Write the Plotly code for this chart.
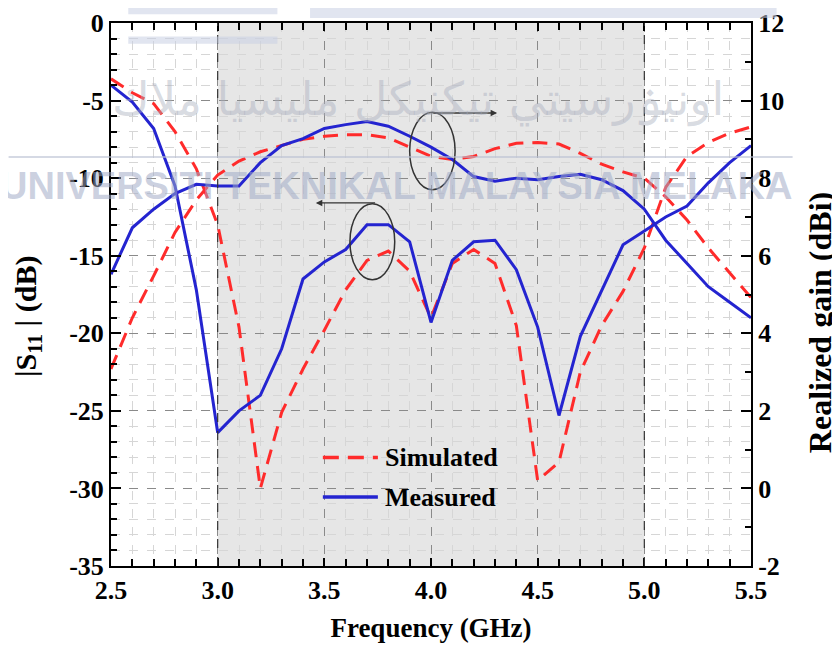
import plotly.graph_objects as go

# ---------------- data ----------------
freq = [2.5, 2.6, 2.7, 2.8, 2.9, 3.0, 3.1, 3.2, 3.3, 3.4, 3.5, 3.6, 3.7, 3.8, 3.9, 4.0,
        4.1, 4.2, 4.3, 4.4, 4.5, 4.6, 4.7, 4.8, 4.9, 5.0, 5.1, 5.2, 5.3, 5.4, 5.5]

s11_sim = [-3.6, -4.5, -5.2, -7.0, -9.4, -13.0, -19.6, -30.0, -25.1, -22.3, -19.8, -17.2,
           -15.3, -14.7, -16.0, -19.0, -15.5, -14.6, -15.5, -19.5, -29.5, -28.3, -22.5,
           -19.5, -17.3, -14.5, -10.6, -8.6, -7.7, -7.1, -6.7]

s11_meas = [-4.0, -5.1, -6.8, -10.5, -17.2, -26.4, -25.0, -24.0, -21.0, -16.5, -15.4, -14.6,
            -13.0, -13.0, -14.1, -19.3, -15.3, -14.1, -14.0, -15.9, -19.6, -25.3, -20.2,
            -17.2, -14.3, -13.4, -12.5, -11.8, -10.3, -9.0, -7.9]

gain_sim = [3.08, 4.40, 5.48, 6.60, 7.44, 8.08, 8.44, 8.68, 8.84, 9.00, 9.08, 9.12, 9.12,
            9.04, 8.80, 8.56, 8.48, 8.56, 8.76, 8.90, 8.92, 8.88, 8.64, 8.36, 8.16, 8.00,
            7.52, 6.92, 6.20, 5.56, 4.92]

gain_meas = [5.52, 6.72, 7.20, 7.60, 7.84, 7.80, 7.80, 8.40, 8.84, 9.02, 9.28, 9.38, 9.46,
             9.34, 9.08, 8.80, 8.48, 8.04, 7.92, 8.00, 7.96, 8.04, 8.10, 7.96, 7.68, 7.20,
             6.40, 5.80, 5.20, 4.80, 4.40]

x_ticks = [2.5, 3.0, 3.5, 4.0, 4.5, 5.0, 5.5]
x_tick_labels = ["2.5", "3.0", "3.5", "4.0", "4.5", "5.0", "5.5"]
y1_ticks = [0, -5, -10, -15, -20, -25, -30, -35]
y1_tick_labels = ["0", "-5", "-10", "-15", "-20", "-25", "-30", "-35"]
y2_ticks = [12, 10, 8, 6, 4, 2, 0, -2]
y2_tick_labels = ["12", "10", "8", "6", "4", "2", "0", "-2"]

band = [3.0, 5.0]
series_names = ["Simulated", "Measured"]

# ---------------- styles ----------------
RED = "#ff2b2b"
BLUE = "#2424d0"
FONT = "Liberation Serif"
dash_red = "15px,9px"

fig = go.Figure()

fig.add_trace(go.Scatter(x=freq, y=s11_sim, mode="lines", name=series_names[0],
                         line=dict(color=RED, width=3, dash=dash_red), yaxis="y"))
fig.add_trace(go.Scatter(x=freq, y=s11_meas, mode="lines", name=series_names[1],
                         line=dict(color=BLUE, width=3), yaxis="y"))
fig.add_trace(go.Scatter(x=freq, y=gain_sim, mode="lines", name=series_names[0],
                         line=dict(color=RED, width=3, dash=dash_red), yaxis="y2"))
fig.add_trace(go.Scatter(x=freq, y=gain_meas, mode="lines", name=series_names[1],
                         line=dict(color=BLUE, width=3), yaxis="y2"))

tickfont = dict(family=FONT, size=26, color="black", weight="bold")
titlefont = dict(family=FONT, size=27, color="black", weight="bold")

# page body has an 8px margin -> figure sized/shifted to land plot area at 111..751 x 23..566
fig.update_layout(
    width=832, height=646,
    margin=dict(l=103, r=89, t=15, b=88),
    paper_bgcolor="white", plot_bgcolor="white",
    showlegend=False,
    xaxis=dict(range=[2.5, 5.5], tickmode="array", tickvals=x_ticks, ticktext=x_tick_labels,
               showline=True, linecolor="black", linewidth=2, mirror="ticks",
               ticks="inside", ticklen=8, tickwidth=2, tickcolor="black",
               showgrid=True, gridcolor="#8a8a8a", griddash="dash", gridwidth=1,
               minor=dict(tickmode="linear", tick0=2.5, dtick=0.1, ticks="inside", ticklen=7,
                          tickwidth=2, tickcolor="black", showgrid=True, gridcolor="#d6d6d6",
                          gridwidth=1),
               zeroline=False, tickfont=tickfont, automargin=False,
               title=dict(text="Frequency (GHz)", font=titlefont, standoff=14)),
    yaxis=dict(range=[-35, 0], tickmode="array", tickvals=y1_ticks, ticktext=y1_tick_labels,
               showline=True, linecolor="black", linewidth=2, mirror=False,
               ticks="inside", ticklen=10, tickwidth=2, tickcolor="black",
               showgrid=True, gridcolor="#8a8a8a", griddash="dash", gridwidth=1,
               minor=dict(tickmode="linear", tick0=0, dtick=1, ticks="inside", ticklen=6,
                          tickwidth=2, tickcolor="black", showgrid=True, gridcolor="#d6d6d6",
                          gridwidth=1),
               zeroline=False, tickfont=tickfont, automargin=False),
    yaxis2=dict(range=[-2, 12], overlaying="y", side="right", tickmode="array",
                tickvals=y2_ticks, ticktext=y2_tick_labels,
                showline=True, linecolor="black", linewidth=2,
                ticks="inside", ticklen=10, tickwidth=2, tickcolor="black",
                showgrid=False, zeroline=False, automargin=False,
                minor=dict(tickmode="linear", tick0=0, dtick=1, ticks="inside", ticklen=6,
                           tickwidth=2, tickcolor="black", showgrid=False),
                tickfont=tickfont),
)

shapes = [
    # shaded operating band
    dict(type="rect", xref="x", yref="paper", x0=band[0], x1=band[1], y0=0, y1=1,
         fillcolor="#e6e6e6", line=dict(width=0), layer="below"),
    dict(type="line", xref="x", yref="paper", x0=band[0], x1=band[0], y0=0, y1=1,
         line=dict(color="#333333", width=1.2, dash="dash")),
    dict(type="line", xref="x", yref="paper", x0=band[1], x1=band[1], y0=0, y1=1,
         line=dict(color="#333333", width=1.2, dash="dash")),
    # ellipses
    dict(type="circle", xref="x", yref="y", x0=3.62, x1=3.83, y0=-16.55, y1=-11.65,
         line=dict(color="#333333", width=1.5)),
    dict(type="circle", xref="x", yref="y", x0=3.90, x1=4.113, y0=-10.75, y1=-5.76,
         line=dict(color="#333333", width=1.5)),
    # legend samples
    dict(type="line", xref="paper", yref="paper", x0=0.331, x1=0.417, y0=0.2, y1=0.2,
         line=dict(color=RED, width=3.5, dash="16px,9px")),
    dict(type="line", xref="paper", yref="paper", x0=0.331, x1=0.417, y0=0.127, y1=0.127,
         line=dict(color=BLUE, width=3.5)),
    # watermark pieces
    dict(type="rect", xref="paper", yref="paper", x0=0.311, x1=1.04, y0=1.009, y1=1.03,
         fillcolor="rgba(200,208,228,0.55)", line=dict(width=0), layer="above"),
    dict(type="rect", xref="paper", yref="paper", x0=0.027, x1=0.26, y0=1.016, y1=1.03,
         fillcolor="rgba(200,208,228,0.55)", line=dict(width=0), layer="above"),
    dict(type="rect", xref="paper", yref="paper", x0=0.027, x1=0.26, y0=0.962, y1=0.975,
         fillcolor="rgba(200,208,228,0.55)", line=dict(width=0), layer="above"),
    dict(type="line", xref="paper", yref="paper", x0=-0.16, x1=1.065, y0=0.753, y1=0.753,
         line=dict(color="rgba(185,192,210,0.6)", width=2), layer="above"),
]
fig.update_layout(shapes=shapes)

legend_font = dict(family=FONT, size=26, color="black", weight="bold")
annotations = [
    dict(x=3.46, y=-11.6, ax=3.745, ay=-11.6, xref="x", yref="y", axref="x", ayref="y",
         text="", showarrow=True, arrowhead=2, arrowsize=1, arrowwidth=1.3, arrowcolor="#333333"),
    dict(x=4.31, y=-5.8, ax=4.0, ay=-5.8, xref="x", yref="y", axref="x", ayref="y",
         text="", showarrow=True, arrowhead=2, arrowsize=1, arrowwidth=1.3, arrowcolor="#333333"),
    # axis titles (y)
    dict(x=-0.13, y=0.46, xref="paper", yref="paper", xanchor="center", yanchor="middle",
         text="|S<sub>11</sub> | (dB)", textangle=-90, showarrow=False,
         font=dict(family=FONT, size=30, color="black", weight="bold")),
    dict(x=1.108, y=0.4475, xref="paper", yref="paper", xanchor="center", yanchor="middle",
         text="Realized gain (dBi)", textangle=-90, showarrow=False,
         font=dict(family=FONT, size=32, color="black", weight="bold")),
    # legend texts
    dict(x=0.425, y=0.2, xref="paper", yref="paper", xanchor="left", yanchor="middle",
         text=series_names[0], showarrow=False, font=legend_font),
    dict(x=0.425, y=0.127, xref="paper", yref="paper", xanchor="left", yanchor="middle",
         text=series_names[1], showarrow=False, font=legend_font),
    # watermark
    dict(x=0.445, y=0.70, xref="paper", yref="paper", xanchor="center", yanchor="middle",
         text="UNIVERSITI TEKNIKAL MALAYSIA MELAKA", showarrow=False,
         font=dict(family="Liberation Sans", size=38, color="rgba(160,170,198,0.55)", weight="bold")),
    dict(x=0.48, y=0.86, xref="paper", yref="paper", xanchor="center", yanchor="middle",
         text="اونيۏرسيتي تيكنيكل مليسيا ملاك", showarrow=False,
         font=dict(family="DejaVu Sans", size=46, color="rgba(170,175,190,0.45)")),
]
fig.update_layout(annotations=annotations)

fig.write_html("out.html")
